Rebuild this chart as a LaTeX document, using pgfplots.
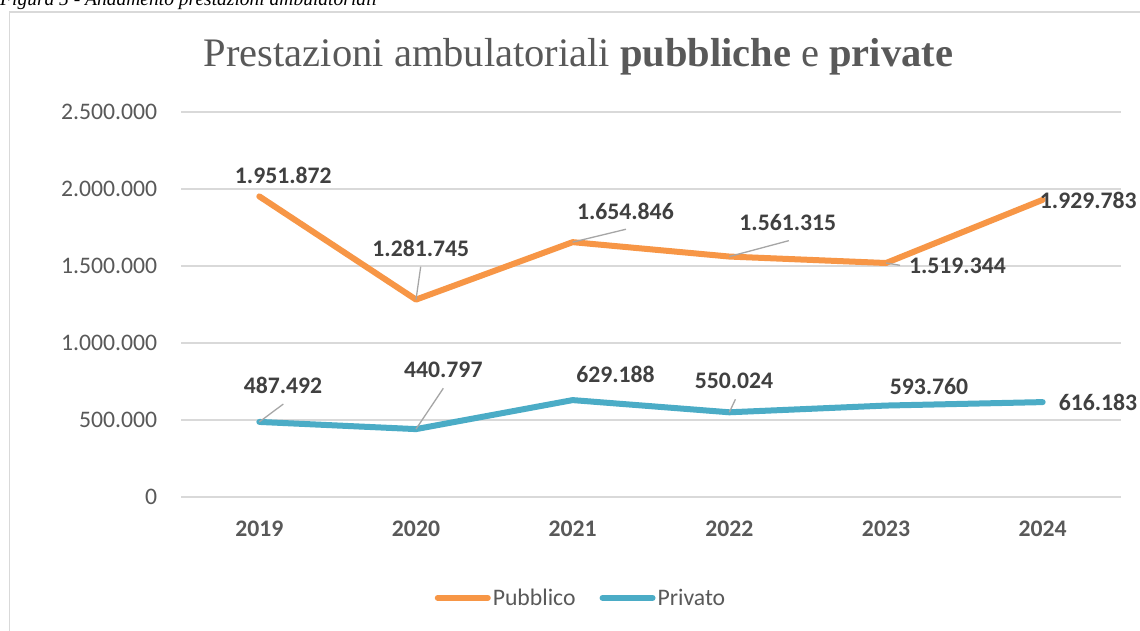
\documentclass[border=0pt]{standalone}
\usepackage{fontspec}
\setmainfont{Carlito}
\newfontfamily\titlefont{Liberation Serif}
\usepackage{pgfplots}
\pgfplotsset{compat=1.18}
\definecolor{pubcol}{HTML}{F79646}
\definecolor{privcol}{HTML}{4BACC6}
\definecolor{gridcol}{HTML}{D9D9D9}
\definecolor{txtcol}{HTML}{595959}
\definecolor{lblcol}{HTML}{404040}
\definecolor{leadcol}{HTML}{A6A6A6}
\newcommand{\lbl}[4]{\node[anchor=base, font=\fontsize{23.7}{26}\selectfont\bfseries, text=lblcol, inner sep=0pt, xshift=#3pt, yshift=#4pt] at (axis cs:#1) {#2};}
\newcommand{\lead}[3]{\draw[leadcol, line width=1.3pt] (axis cs:#1) -- ++(#2pt,#3pt);}
\begin{document}
\begin{tikzpicture}
\useasboundingbox (0pt,0pt) rectangle (1140pt,631pt);
\clip (0pt,0pt) rectangle (1140pt,631pt);
\fill[white] (0pt,0pt) rectangle (1140pt,631pt);
\draw[gridcol, line width=1.5pt] (9.5pt,-20pt) -- (9.5pt,619pt) -- (1160pt,619pt);
\node[anchor=base west, inner sep=0pt, font=\titlefont\itshape\fontsize{19.5}{22}\selectfont] at (0pt,625pt) {Figura 5 - Andamento prestazioni ambulatoriali};
\node[anchor=base, inner sep=0pt, text=txtcol, font=\titlefont\fontsize{40.5}{46}\selectfont] at (578.5pt,564pt) {Prestazioni ambulatoriali \textbf{pubbliche} e \textbf{private}};
\begin{axis}[
  at={(181pt,134pt)}, anchor=south west,
  scale only axis, width=940pt, height=385pt,
  xmin=-0.5, xmax=5.5, ymin=0, ymax=2500000,
  axis line style={draw=none},
  major tick length=0pt,
  xtick={0,1,2,3,4,5},
  xticklabels={2019,2020,2021,2022,2023,2024},
  ytick={0,500000,1000000,1500000,2000000,2500000},
  scaled y ticks=false,
  /pgf/number format/.cd, fixed, 1000 sep={.}, assume math mode=true,
  /pgfplots/.cd,
  ymajorgrids,
  grid style={gridcol, line width=1.5pt},
  yticklabel style={font=\fontsize{23.7}{26}\selectfont, text=txtcol, anchor=east, inner sep=0pt, xshift=-23.7pt},
  xticklabel style={font=\fontsize{23.7}{26}\selectfont\bfseries, text=txtcol, anchor=base, inner sep=0pt, yshift=-40pt},
  clip=false,
  legend style={draw=none, fill=none, at={(axis description cs:0.4255,-0.262)}, anchor=center,
    font=\fontsize{23.7}{26}\selectfont, text=txtcol, legend columns=2,
    /tikz/every even column/.append style={column sep=22pt}},
  legend image code/.code={\draw[#1, line width=6pt, line cap=round] (0pt,0pt) -- (50pt,0pt);},
]
\addplot[pubcol, line width=6pt, line join=round, line cap=round] coordinates {
(0,1951872) (1,1281745) (2,1654846) (3,1561315) (4,1519344) (5,1929783)};
\addlegendentry{Pubblico}
\addplot[privcol, line width=6pt, line join=round, line cap=round] coordinates {
(0,487492) (1,440797) (2,629188) (3,550024) (4,593760) (5,616183)};
\addlegendentry{Privato}
% leader lines
\lead{1,1281745}{4.7}{32.9}
\lead{2,1654846}{53.3}{12.9}
\lead{3,1561315}{59.5}{15.9}
\lead{4,1519344}{14}{-2.3}
\lead{0,487492}{24}{17.9}
\lead{1,440797}{27.3}{40.8}
\lead{3,550024}{6.1}{13}
% labels
\lbl{0,1951872}{1.951.872}{24}{13.4}
\lbl{1,1281745}{1.281.745}{4.8}{43.6}
\lbl{2,1654846}{1.654.846}{52.7}{22.9}
\lbl{3,1561315}{1.561.315}{58.5}{25.9}
\lbl{4,1519344}{1.519.344}{71.4}{-10.3}
\lbl{5,1929783}{1.929.783}{45.6}{-8.5}
\lbl{0,487492}{487.492}{23.7}{28.6}
\lbl{1,440797}{440.797}{27.3}{51.8}
\lbl{2,629188}{629.188}{42.8}{18.1}
\lbl{3,550024}{550.024}{4.7}{23.3}
\lbl{4,593760}{593.760}{43}{10.6}
\lbl{5,616183}{616.183}{55.3}{-7.9}
\end{axis}
\end{tikzpicture}
\end{document}
